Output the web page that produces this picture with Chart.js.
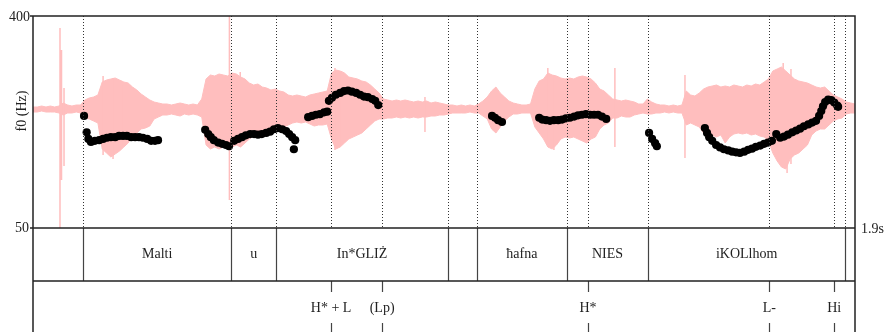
<!DOCTYPE html>
<html>
<head>
<meta charset="utf-8">
<script src="https://cdn.jsdelivr.net/npm/chart.js@4.4.1/dist/chart.umd.min.js"></script>
<style>
  html, body { margin: 0; padding: 0; background: #fff; }
  #wrap { width: 886px; height: 332px; }
</style>
</head>
<body>
<div id="wrap"><canvas id="f0Chart" width="886" height="332"></canvas></div>
<script>
// * waveform envelope, one value every 10 ms (arbitrary amplitude units)
const waveStep = 0.01;
const waveHi = [
  2, 2, 3, 2, 3, 2, 3, 6, 4, 3,
  4, 4, 9, 11, 12, 14, 27, 29, 30, 31,
  29, 27, 26, 22, 19, 15, 12, 9, 7, 6,
  5, 5, 4, 5, 6, 5, 4, 5, 4, 10,
  30, 34, 33, 35, 34, 33, 36, 35, 32, 30,
  26, 24, 25, 22, 21, 19, 20, 18, 17, 14,
  13, 14, 13, 12, 14, 15, 16, 17, 18, 36,
  39, 38, 36, 32, 31, 30, 28, 27, 24, 20,
  16, 10, 9, 8, 9, 8, 9, 8, 7, 8,
  7, 8, 6, 7, 6, 5, 4, 4, 3, 4,
  3, 4, 3, 5, 8, 12, 18, 22, 16, 12,
  8, 6, 5, 4, 4, 5, 20, 28, 30, 36,
  34, 33, 31, 30, 31, 30, 32, 33, 32, 30,
  26, 20, 18, 14, 10, 9, 8, 9, 8, 7,
  5, 5, 10, 7, 5, 4, 4, 3, 4, 3,
  4, 18, 14, 13, 16, 20, 22, 23, 24, 22,
  23, 22, 24, 23, 22, 24, 23, 25, 24, 27,
  30, 38, 40, 42, 38, 34, 30, 28, 27, 26,
  24, 22, 21, 22, 18, 14, 12, 10, 7, 6, 5,
];
const waveLo = [
  -3, -3, -2, -3, -3, -3, -4, -6, -4, -4,
  -3, -4, -9, -10, -12, -14, -40, -44, -48, -45,
  -42, -38, -34, -26, -24, -20, -19, -17, -10, -8,
  -6, -6, -5, -6, -7, -5, -6, -5, -6, -8,
  -36, -40, -38, -40, -38, -37, -38, -36, -38, -34,
  -30, -27, -26, -25, -22, -20, -19, -18, -18, -16,
  -14, -13, -14, -13, -15, -17, -16, -16, -15, -30,
  -40, -38, -34, -30, -28, -26, -24, -20, -16, -12,
  -10, -10, -9, -9, -8, -9, -8, -9, -8, -9,
  -8, -8, -7, -7, -6, -6, -5, -4, -4, -4,
  -4, -3, -4, -4, -7, -10, -20, -24, -18, -12,
  -8, -5, -5, -4, -4, -4, -18, -24, -30, -38,
  -40, -36, -30, -28, -29, -28, -30, -32, -34, -30,
  -28, -20, -16, -14, -9, -9, -7, -8, -8, -6,
  -5, -4, -5, -5, -4, -4, -3, -4, -3, -4,
  -4, -16, -14, -16, -18, -24, -28, -26, -28, -26,
  -34, -28, -25, -24, -25, -24, -26, -25, -27, -28,
  -32, -44, -52, -58, -60, -50, -46, -44, -40, -36,
  -26, -22, -20, -20, -16, -12, -10, -9, -5, -4, -4,
];
// ? transients and tall glottal pulses
const spikeT = [
  0.0624, 0.0659, 0.0717, 0.162, 0.185, 0.205, 0.454, 0.479, 0.698, 0.713,
  0.906, 1.19, 1.204, 1.345, 1.507, 1.734, 1.743, 1.752,
];
const spikeHi = [81, 59, 21, 33, 31, 24, 93, 37, 41, 38, 12, 41, 34, 41, 34, 46, 30, 40];
const spikeLo = [-119, -71, -57, -46, -50, -36, -91, -38, -41, -36, -23, -30, -41, -38, -49, -40, -64, -55];

// * pitch track (s, Hz)
const pitchT = [
  0.118, 0.124, 0.128, 0.134, 0.143, 0.153, 0.162, 0.171, 0.18, 0.19, 0.199, 0.208, 0.217, 0.227, 0.236, 0.245, 0.254, 0.264, 0.273, 0.282, 0.289,
  0.398, 0.405, 0.411, 0.418, 0.428, 0.437, 0.446, 0.453, 0.465, 0.474, 0.483, 0.492, 0.502, 0.511, 0.52, 0.529, 0.539, 0.548, 0.557, 0.566, 0.576, 0.585, 0.592, 0.599, 0.606, 0.603,
  0.636, 0.645, 0.654, 0.663, 0.673, 0.68, 0.684, 0.691, 0.7, 0.71, 0.719, 0.728, 0.737, 0.747, 0.756, 0.765, 0.774, 0.784, 0.791, 0.798,
  1.061, 1.068, 1.075, 1.084,
  1.17, 1.177, 1.186, 1.195, 1.204, 1.214, 1.223, 1.232, 1.241, 1.251, 1.26, 1.269, 1.278, 1.288, 1.297, 1.306, 1.315, 1.325,
  1.424, 1.431, 1.438, 1.442,
  1.553, 1.558, 1.563, 1.57, 1.579, 1.588, 1.597, 1.607, 1.616, 1.625, 1.634, 1.644, 1.653, 1.662, 1.671, 1.681, 1.69, 1.699, 1.708, 1.718,
  1.727, 1.736, 1.745, 1.755, 1.764, 1.773, 1.782, 1.792, 1.801, 1.81, 1.817, 1.822, 1.826, 1.831, 1.838, 1.845, 1.852, 1.859, 1.861,
];
const pitchHz = [
  235, 208, 197, 192, 194, 195, 197, 199, 200, 200, 202, 202, 202, 200, 200, 200, 199, 197, 194, 194, 195,
  212, 205, 200, 195, 191, 189, 187, 185, 194, 197, 200, 203, 205, 205, 204, 205, 207, 209, 213, 215, 213, 210, 205, 200, 195, 180,
  233, 235, 237, 238, 241, 242, 260, 265, 270, 273, 276, 277, 275, 273, 270, 267, 266, 263, 260, 253,
  235, 232, 228, 225,
  232, 229, 228, 227, 228, 228, 229, 231, 232, 234, 236, 237, 238, 237, 237, 237, 234, 230,
  207, 197, 190, 185,
  215, 207, 200, 194, 187, 183, 180, 178, 176, 175, 174, 176, 179, 181, 184, 186, 189, 191, 194, 205,
  199, 201, 204, 208, 211, 214, 218, 221, 224, 227, 235, 243, 251, 258, 262, 261, 257, 252, 250,
];

// * tier 1: words
const wordStarts = [0, 0.116, 0.458, 0.562, 0.959, 1.026, 1.234, 1.422, 1.877];
const wordEnds = [0.116, 0.458, 0.562, 0.959, 1.026, 1.234, 1.422, 1.877, 1.9];
const wordTexts = ["", "Malti", "u", "In*GLIŻ", "", "ħafna", "NIES", "iKOLlhom", ""];

// * tier 2: tones
const toneTimes = [0.689, 0.807, 1.283, 1.702, 1.852];
const toneTexts = ["H* + L", "(Lp)", "H*", "L-", "Hi"];

const tMax = 1.9;
const fMin = 50;
const fMax = 400;

const pink = "rgb(255,190,190)";
const ink = "#222";
const font = "14px 'Liberation Serif', 'Times New Roman', serif";

// ? build datasets
const waveHiData = waveHi.map((v, i) => ({ x: i * waveStep, y: v }));
const waveLoData = waveLo.map((v, i) => ({ x: i * waveStep, y: v }));
const spikeData = [];
spikeT.forEach((t, i) => {
  spikeData.push({ x: t, y: spikeLo[i] }, { x: t, y: spikeHi[i] }, { x: t, y: null });
});
const pitchData = pitchT.map((t, i) => ({ x: t, y: pitchHz[i] }));

const tierPlugin = {
  id: "tierPlugin",
  afterDatasetsDraw(chart) {
    const ctx = chart.ctx;
    const xs = chart.scales.x;
    const area = chart.chartArea;
    const top = area.top;
    const bot = area.bottom;
    const left = area.left;
    const right = area.right;
    const tierMid = bot + 53;
    const pageBot = chart.height;
    const px = (t) => Math.round(xs.getPixelForValue(t)) + 0.5;

    ctx.save();
    // * dotted guides in the pitch panel
    ctx.setLineDash([1, 2]);
    ctx.strokeStyle = "#333";
    ctx.lineWidth = 1;
    const guides = [...wordStarts.slice(1), ...toneTimes];
    guides.forEach((t) => {
      ctx.beginPath();
      ctx.moveTo(px(t), top);
      ctx.lineTo(px(t), bot);
      ctx.stroke();
    });
    ctx.setLineDash([]);

    // * word boundaries
    ctx.strokeStyle = "#444";
    ctx.lineWidth = 1.2;
    wordStarts.slice(1).forEach((t) => {
      ctx.beginPath();
      ctx.moveTo(px(t), bot);
      ctx.lineTo(px(t), tierMid);
      ctx.stroke();
    });

    // * tone ticks
    toneTimes.forEach((t) => {
      ctx.beginPath();
      ctx.moveTo(px(t), tierMid);
      ctx.lineTo(px(t), tierMid + 11);
      ctx.moveTo(px(t), pageBot - 9);
      ctx.lineTo(px(t), pageBot);
      ctx.stroke();
    });

    // * frame
    ctx.strokeStyle = ink;
    ctx.lineWidth = 1.5;
    ctx.beginPath();
    ctx.moveTo(left, pageBot);
    ctx.lineTo(left, top);
    ctx.lineTo(right, top);
    ctx.lineTo(right, pageBot);
    ctx.moveTo(left, bot);
    ctx.lineTo(right, bot);
    ctx.moveTo(left, tierMid);
    ctx.lineTo(right, tierMid);
    ctx.moveTo(left - 3, top);
    ctx.lineTo(left, top);
    ctx.moveTo(left - 3, bot);
    ctx.lineTo(left, bot);
    ctx.stroke();

    // * texts
    ctx.fillStyle = ink;
    ctx.font = font;
    ctx.textBaseline = "middle";
    ctx.textAlign = "right";
    ctx.fillText(String(fMax), left - 3, top + 1);
    ctx.fillText(String(fMin), left - 4, bot);
    ctx.textAlign = "left";
    ctx.fillText(tMax + "s", right + 6, bot + 1);

    ctx.textAlign = "center";
    wordTexts.forEach((w, i) => {
      if (!w) return;
      const cx = (xs.getPixelForValue(wordStarts[i]) + xs.getPixelForValue(wordEnds[i])) / 2;
      ctx.fillText(w, cx, bot + 26);
    });
    toneTexts.forEach((w, i) => {
      ctx.fillText(w, xs.getPixelForValue(toneTimes[i]), tierMid + 27);
    });

    ctx.translate(22, 111);
    ctx.rotate(-Math.PI / 2);
    ctx.fillText("f0 (Hz)", 0, 0);
    ctx.restore();
  },
};

const f0Canvas = document.getElementById("f0Chart").getContext("2d");
const f0Chart = new Chart(f0Canvas, {
  type: "line",
  data: {
    datasets: [
      {
        type: "scatter",
        data: pitchData,
        yAxisID: "yPitch",
        backgroundColor: "#000",
        borderWidth: 0,
        pointRadius: 4.1,
        order: 0,
      },
      {
        data: waveHiData,
        yAxisID: "yWave",
        borderColor: pink,
        borderWidth: 1,
        pointRadius: 0,
        fill: false,
        order: 2,
      },
      {
        data: waveLoData,
        yAxisID: "yWave",
        borderColor: pink,
        backgroundColor: pink,
        borderWidth: 1,
        pointRadius: 0,
        fill: "-1",
        order: 2,
      },
      {
        data: spikeData,
        yAxisID: "yWave",
        borderColor: pink,
        borderWidth: 1.5,
        pointRadius: 0,
        spanGaps: false,
        fill: false,
        order: 1,
      },
    ],
  },
  options: {
    responsive: false,
    animation: false,
    events: [],
    layout: { padding: { left: 33, top: 16, right: 31, bottom: 104 } },
    plugins: { legend: { display: false }, tooltip: { enabled: false } },
    scales: {
      x: { type: "linear", min: 0, max: tMax, display: false },
      yPitch: { type: "linear", min: fMin, max: fMax, display: false },
      yWave: { type: "linear", min: -119, max: 93, display: false },
    },
  },
  plugins: [tierPlugin],
});
</script>
</body>
</html>
